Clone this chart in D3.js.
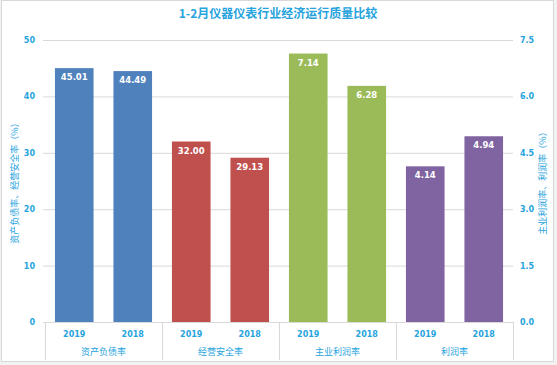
<!DOCTYPE html>
<html><head><meta charset="utf-8">
<script src="https://cdn.jsdelivr.net/npm/d3@7"></script>
<style>body{margin:0;background:#fff;}svg{display:block;font-family:"Noto Sans CJK SC","DejaVu Sans",sans-serif;}</style>
</head><body>
<svg id="c" width="557" height="365"></svg>
<script>
const title = "1-2月仪器仪表行业经济运行质量比较";
const groups = ["资产负债率", "经营安全率", "主业利润率", "利润率"];
const years = ["2019", "2018"];
const values = [[45.01, 44.49], [32.00, 29.13], [7.14, 6.28], [4.14, 4.94]];
const axisSide = ["left", "left", "right", "right"];
const colors = ["#4F81BD", "#C0504D", "#9BBB59", "#8064A2"];
const leftTicks = [0, 10, 20, 30, 40, 50];
const rightTicks = [0, 1.5, 3, 4.5, 6, 7.5];
const leftTitle = "资产负债率、经营安全率（%）";
const rightTitle = "主业利润率、利润率（%）";

const svg = d3.select("#c");
const blue = "#27A3DD";
const m = {l: 45, r: 513, t: 40, b: 322};

svg.append("rect").attr("x", 0).attr("y", 0).attr("width", 557).attr("height", 365).attr("fill", "#f2f2f2");
svg.append("rect").attr("x", 1.5).attr("y", 0.5).attr("width", 552).attr("height", 361).attr("fill", "#fff").attr("stroke", "#d9d9d9");

const yL = d3.scaleLinear().domain([0, 50]).range([m.b, m.t]);
const yR = d3.scaleLinear().domain([0, 7.5]).range([m.b, m.t]);
const xG = d3.scaleBand().domain(groups).range([m.l, m.r]);
const xB = d3.scaleBand().domain(years).range([0, xG.bandwidth()]).paddingInner(0.34).paddingOuter(0.17);

// gridlines
svg.append("g").selectAll("line").data(leftTicks).join("line")
  .attr("x1", m.l - 2).attr("x2", m.r).attr("y1", d => yL(d) + 0.5).attr("y2", d => yL(d) + 0.5)
  .attr("stroke", "#d9d9d9").attr("stroke-width", 1);

// left axis labels
const la = svg.append("g").attr("transform", `translate(${m.l},0)`)
  .call(d3.axisLeft(yL).tickValues(leftTicks).tickSize(0).tickPadding(10));
la.select(".domain").remove();
la.selectAll("text").attr("fill", blue).attr("font-size", 8).attr("font-weight", "bold").attr("font-family", "DejaVu Sans, sans-serif");

const ra = svg.append("g").attr("transform", `translate(${m.r},0)`)
  .call(d3.axisRight(yR).tickValues(rightTicks).tickSize(0).tickPadding(7).tickFormat(d3.format(".1f")));
ra.select(".domain").remove();
ra.selectAll("text").attr("fill", blue).attr("font-size", 8).attr("font-weight", "bold").attr("font-family", "DejaVu Sans, sans-serif");

// bars
groups.forEach((g, gi) => {
  const ys = axisSide[gi] === "left" ? yL : yR;
  const gg = svg.append("g").attr("transform", `translate(${xG(g)},0)`);
  gg.selectAll("rect").data(values[gi]).join("rect")
    .attr("x", (d, i) => xB(years[i])).attr("width", xB.bandwidth())
    .attr("y", d => ys(d)).attr("height", d => m.b - ys(d))
    .attr("fill", colors[gi]);
  gg.selectAll("text").data(values[gi]).join("text")
    .attr("x", (d, i) => xB(years[i]) + xB.bandwidth() / 2)
    .attr("y", d => ys(d) + 12)
    .attr("text-anchor", "middle").attr("fill", "#fff")
    .attr("font-size", 8.5).attr("font-weight", "bold").attr("font-family", "DejaVu Sans, sans-serif")
    .text(d => d.toFixed(2));
  gg.selectAll("text.yr").data(years).join("text").attr("class", "yr")
    .attr("x", d => xB(d) + xB.bandwidth() / 2).attr("y", 337)
    .attr("text-anchor", "middle").attr("fill", blue)
    .attr("font-size", 8).attr("font-weight", "bold").attr("font-family", "DejaVu Sans, sans-serif")
    .text(d => d);
  gg.append("text").attr("x", xG.bandwidth() / 2).attr("y", 355)
    .attr("text-anchor", "middle").attr("fill", blue).attr("font-size", 9).text(g);
});

// axis baseline and dividers
svg.append("line").attr("x1", m.l).attr("x2", m.r).attr("y1", m.b + 0.5).attr("y2", m.b + 0.5).attr("stroke", "#d9d9d9");
svg.append("g").selectAll("line").data(groups.map(g => xG(g)).concat([m.r])).join("line")
  .attr("x1", d => Math.round(d) + 0.5).attr("x2", d => Math.round(d) + 0.5)
  .attr("y1", m.b).attr("y2", 360).attr("stroke", "#d9d9d9");

// title
svg.append("text").attr("x", 278).attr("y", 18).attr("text-anchor", "middle")
  .attr("fill", blue).attr("font-size", 12).attr("font-weight", "bold").text(title);

// axis titles
svg.append("text").attr("transform", `translate(18,${(m.t + m.b) / 2}) rotate(-90)`)
  .attr("text-anchor", "middle").attr("fill", blue).attr("font-size", 9).text(leftTitle);
svg.append("text").attr("transform", `translate(546,${(m.t + m.b) / 2}) rotate(-90)`)
  .attr("text-anchor", "middle").attr("fill", blue).attr("font-size", 9).text(rightTitle);
</script>
</body></html>
